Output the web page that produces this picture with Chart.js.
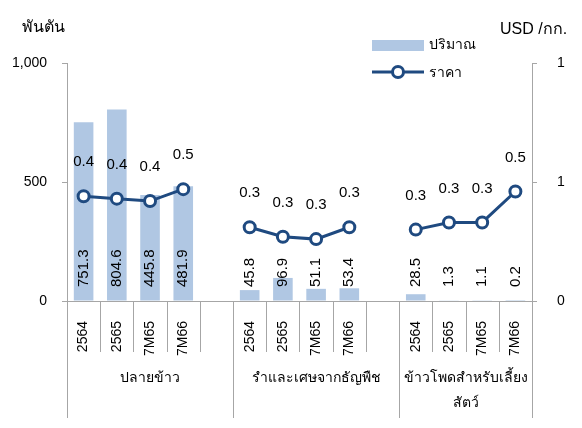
<!DOCTYPE html>
<html>
<head>
<meta charset="utf-8">
<script src="https://cdn.jsdelivr.net/npm/chart.js@4"></script>
<style>
  html, body { margin: 0; padding: 0; background: #fff; }
</style>
</head>
<body>
<canvas id="chart" width="582" height="428"></canvas>
<script>
// ปริมาณ (พันตัน) และราคา (USD/กก.) แยกตามกลุ่มสินค้า
const categorias = ['2564', '2565', '7M65', '7M66', '', '2564', '2565', '7M65', '7M66', '', '2564', '2565', '7M65', '7M66'];
const quantidade = [751.3, 804.6, 445.8, 481.9, null, 45.8, 96.9, 51.1, 53.4, null, 28.5, 1.3, 1.1, 0.2];
const preco = [0.44, 0.43, 0.42, 0.47, null, 0.31, 0.27, 0.26, 0.31, null, 0.30, 0.33, 0.33, 0.46];
const grupos = [['ปลายข้าว'], ['รำและเศษจากธัญพืช'], ['ข้าวโพดสำหรับเลี้ยง', 'สัตว์']];
const grupoInicio = [0, 5, 10, 14];
const leftTicks = [0, 500, 1000];
const rightTicks = [0, 0.5, 1];

const FONT = '"Liberation Sans", Arial, sans-serif';
const COR_BARRA = '#B0C7E3';
const COR_LINHA = '#1F4A80';
const COR_EIXO = '#A6A6A6';

Chart.defaults.font.family = FONT;
Chart.defaults.color = '#000';

const extras = {
  id: 'extras',
  afterDatasetsDraw(chart) {
    const { ctx, scales } = chart;
    const x = scales.x, y = scales.y;
    const base = y.getPixelForValue(0);

    // rótulos das barras (rotacionados)
    ctx.save();
    ctx.fillStyle = '#000';
    ctx.font = '15px ' + FONT;
    chart.getDatasetMeta(1).data.forEach((bar, i) => {
      const v = quantidade[i];
      if (v == null) return;
      ctx.save();
      ctx.translate(bar.x, base - 14);
      ctx.rotate(-Math.PI / 2);
      ctx.textAlign = 'left';
      ctx.textBaseline = 'middle';
      ctx.fillText(v.toFixed(1), 0, 0);
      ctx.restore();
    });

    // rótulos da linha
    ctx.textAlign = 'center';
    ctx.textBaseline = 'middle';
    chart.getDatasetMeta(0).data.forEach((pt, i) => {
      const v = preco[i];
      if (v == null) return;
      ctx.fillText(v.toFixed(1), pt.x, pt.y - 34);
    });
    ctx.restore();
  },
  afterDraw(chart) {
    const { ctx, scales, chartArea } = chart;
    const x = scales.x;
    const slot = x.getPixelForValue(1) - x.getPixelForValue(0);
    const bottom = chartArea.bottom;

    ctx.save();
    ctx.strokeStyle = COR_EIXO;
    ctx.lineWidth = 1;
    // marcas do eixo x e separadores de grupo
    for (let i = 0; i <= categorias.length; i++) {
      const px = Math.round(x.getPixelForValue(0) - slot / 2 + i * slot) + 0.5;
      const sep = grupoInicio.includes(i);
      ctx.beginPath();
      ctx.moveTo(px, bottom);
      ctx.lineTo(px, bottom + (sep ? 117 : 51));
      ctx.stroke();
    }

    // nomes dos grupos
    ctx.fillStyle = '#000';
    ctx.font = '14px ' + FONT;
    ctx.textAlign = 'center';
    ctx.textBaseline = 'middle';
    grupos.forEach((linhas, g) => {
      const a = x.getPixelForValue(grupoInicio[g]) - slot / 2;
      const b = x.getPixelForValue(grupoInicio[g + 1]) - slot / 2;
      linhas.forEach((t, k) => ctx.fillText(t, (a + b) / 2, 378 + k * 25));
    });

    // títulos dos eixos
    ctx.font = '16px ' + FONT;
    ctx.textAlign = 'left';
    ctx.fillText('พันตัน', 22, 28);
    ctx.fillText('USD /กก.', 500, 30);

    // legenda
    ctx.font = '14px ' + FONT;
    ctx.fillStyle = COR_BARRA;
    ctx.fillRect(372, 40, 52, 11);
    ctx.strokeStyle = COR_LINHA;
    ctx.lineWidth = 3;
    ctx.beginPath();
    ctx.moveTo(372, 72);
    ctx.lineTo(424, 72);
    ctx.stroke();
    ctx.beginPath();
    ctx.arc(398, 72, 5.5, 0, Math.PI * 2);
    ctx.fillStyle = '#fff';
    ctx.fill();
    ctx.stroke();
    ctx.fillStyle = '#000';
    ctx.fillText('ปริมาณ', 429, 45);
    ctx.fillText('ราคา', 429, 73);
    ctx.restore();
  }
};

new Chart(document.getElementById('chart'), {
  data: {
    labels: categorias,
    datasets: [
      {
        type: 'line',
        label: 'ราคา',
        data: preco,
        yAxisID: 'y1',
        borderColor: COR_LINHA,
        borderWidth: 3,
        pointRadius: 5.5,
        pointBorderWidth: 3,
        pointBackgroundColor: '#fff',
        pointBorderColor: COR_LINHA,
        spanGaps: false,
        order: 0,
      },
      {
        type: 'bar',
        label: 'ปริมาณ',
        data: quantidade,
        yAxisID: 'y',
        backgroundColor: COR_BARRA,
        categoryPercentage: 1,
        barPercentage: 0.59,
        order: 1,
      },
    ],
  },
  options: {
    responsive: false,
    animation: false,
    layout: { padding: { top: 63, left: 0, right: 0, bottom: 0 } },
    plugins: { legend: { display: false }, tooltip: { enabled: false } },
    scales: {
      x: {
        grid: { display: false },
        border: { display: true, color: COR_EIXO },
        ticks: {
          autoSkip: false,
          minRotation: 90,
          maxRotation: 90,
          padding: 12,
          font: { size: 14 },
          color: '#000',
        },
        afterFit: (s) => { s.height = 127; },
      },
      y: {
        position: 'left',
        min: 0,
        max: 1000,
        afterBuildTicks: (s) => { s.ticks = leftTicks.map((v) => ({ value: v })); },
        grid: { display: true, drawOnChartArea: false, drawTicks: true, tickLength: 5, color: COR_EIXO },
        border: { display: true, color: COR_EIXO },
        ticks: {
          padding: 15,
          font: { size: 14 },
          color: '#000',
          callback: (v) => v.toLocaleString('en-US'),
        },
        afterFit: (s) => { s.width = 67; },
      },
      y1: {
        position: 'right',
        min: 0,
        max: 1,
        afterBuildTicks: (s) => { s.ticks = rightTicks.map((v) => ({ value: v })); },
        grid: { display: true, drawOnChartArea: false, drawTicks: true, tickLength: 5, color: COR_EIXO },
        border: { display: true, color: COR_EIXO },
        ticks: {
          padding: 20,
          font: { size: 14 },
          color: '#000',
          callback: (v) => String(Math.round(v)),
        },
        afterFit: (s) => { s.width = 50; },
      },
    },
  },
  plugins: [extras],
});
</script>
</body>
</html>
